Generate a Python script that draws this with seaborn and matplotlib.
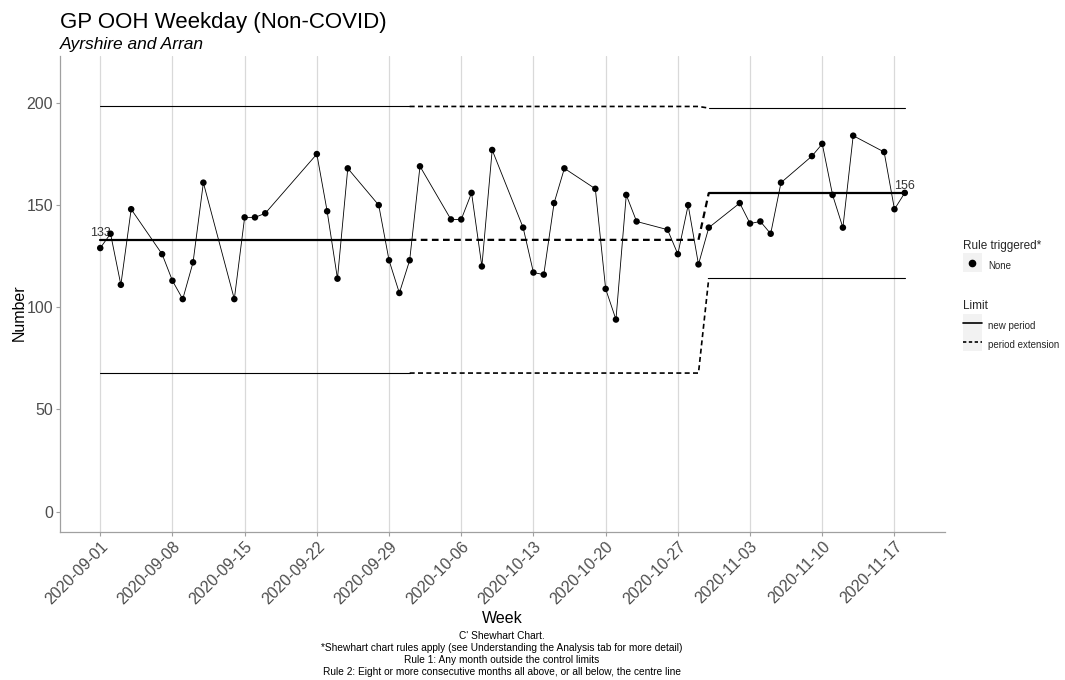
import matplotlib
matplotlib.use("Agg")
import matplotlib.pyplot as plt
from matplotlib.lines import Line2D
from matplotlib.patches import Rectangle
from matplotlib.legend_handler import HandlerTuple, HandlerPatch
import pandas as pd
import seaborn as sns

# daily counts (weekdays only)
dates = ["2020-09-01", "2020-09-02", "2020-09-03", "2020-09-04",
         "2020-09-07", "2020-09-08", "2020-09-09", "2020-09-10", "2020-09-11",
         "2020-09-14", "2020-09-15", "2020-09-16", "2020-09-17",
         "2020-09-22", "2020-09-23", "2020-09-24", "2020-09-25",
         "2020-09-28", "2020-09-29", "2020-09-30", "2020-10-01", "2020-10-02",
         "2020-10-05", "2020-10-06", "2020-10-07", "2020-10-08", "2020-10-09",
         "2020-10-12", "2020-10-13", "2020-10-14", "2020-10-15", "2020-10-16",
         "2020-10-19", "2020-10-20", "2020-10-21", "2020-10-22", "2020-10-23",
         "2020-10-26", "2020-10-27", "2020-10-28", "2020-10-29", "2020-10-30",
         "2020-11-02", "2020-11-03", "2020-11-04", "2020-11-05", "2020-11-06",
         "2020-11-09", "2020-11-10", "2020-11-11", "2020-11-12", "2020-11-13",
         "2020-11-16", "2020-11-17", "2020-11-18"]
counts = [129, 136, 111, 148,
          126, 113, 104, 122, 161,
          104, 144, 144, 146,
          175, 147, 114, 168,
          150, 123, 107, 123, 169,
          143, 143, 156, 120, 177,
          139, 117, 116, 151, 168,
          158, 109, 94, 155, 142,
          138, 126, 150, 121, 139,
          151, 141, 142, 136, 161,
          174, 180, 155, 139, 184,
          176, 148, 156]

# control limits: first period, its extension, second period
p1_dates = ["2020-09-01", "2020-10-01"]
p1_centre = [133, 133]
p1_upper = [198.3, 198.3]
p1_lower = [67.8, 67.8]

ext_dates = ["2020-10-01", "2020-10-29", "2020-10-30"]
ext_centre = [133, 133, 156]
ext_upper = [198.3, 198.3, 197.5]
ext_lower = [67.8, 67.8, 114.3]

p2_dates = ["2020-10-30", "2020-11-18"]
p2_centre = [156, 156]
p2_upper = [197.5, 197.5]
p2_lower = [114.3, 114.3]

week_ticks = pd.date_range("2020-09-01", "2020-11-17", freq="7D")
y_ticks = [0, 50, 100, 150, 200]

df = pd.DataFrame({"date": pd.to_datetime(dates), "count": counts})

sns.set_theme(style="white")
plt.rcParams["font.family"] = ["Liberation Sans", "DejaVu Sans"]

fig = plt.figure(figsize=(10.65, 6.8), dpi=100)
ax = fig.add_axes([60 / 1065, 1 - 532 / 680, 885 / 1065, 476 / 680])

# limit lines
dash = (0, (3, 2))
for d, c, u, l, ls, lw in [(p1_dates, p1_centre, p1_upper, p1_lower, "-", 0.8),
                           (ext_dates, ext_centre, ext_upper, ext_lower, dash, 1.2),
                           (p2_dates, p2_centre, p2_upper, p2_lower, "-", 0.8)]:
    x = pd.to_datetime(d)
    sns.lineplot(x=x, y=c, ax=ax, color="black", lw=1.6, linestyle=ls)
    sns.lineplot(x=x, y=u, ax=ax, color="black", lw=lw, linestyle=ls)
    sns.lineplot(x=x, y=l, ax=ax, color="black", lw=lw, linestyle=ls)

# data
sns.lineplot(data=df, x="date", y="count", ax=ax, color="black", lw=0.6)
sns.scatterplot(data=df, x="date", y="count", ax=ax, color="black", s=22,
                edgecolor="none", zorder=5)

# centre line labels
ax.text(pd.Timestamp(p1_dates[0]), p1_centre[0] + 0.5, str(p1_centre[0]),
        ha="center", va="bottom", fontsize=9, color="#333333")
ax.text(pd.Timestamp(p2_dates[-1]), p2_centre[-1] + 0.5, str(p2_centre[-1]),
        ha="center", va="bottom", fontsize=9, color="#333333")

ax.set_xlim(pd.Timestamp("2020-09-01") - pd.Timedelta(days=3.9),
            pd.Timestamp("2020-11-18") + pd.Timedelta(days=3.9))
ax.set_ylim(-10, 223)
ax.set_xticks(week_ticks)
ax.set_xticklabels([t.strftime("%Y-%m-%d") for t in week_ticks], rotation=45,
                   ha="right", va="top", rotation_mode="anchor",
                   fontsize=11.5, color="#4d4d4d")
ax.set_yticks(y_ticks)
ax.set_yticklabels([str(v) for v in y_ticks], fontsize=11.5, color="#4d4d4d")
ax.tick_params(axis="both", length=3, width=0.8, color="#a0a0a0",
               bottom=True, left=True, pad=2)
ax.grid(axis="x", color="#d9d9d9", lw=0.9)
ax.grid(axis="y", visible=False)
for side in ["top", "right"]:
    ax.spines[side].set_visible(False)
for side in ["left", "bottom"]:
    ax.spines[side].set_color("#a0a0a0")
    ax.spines[side].set_linewidth(0.9)

ax.set_xlabel("Week", fontsize=11.5, color="black", labelpad=3)
ax.set_ylabel("Number", fontsize=11.5, color="black", labelpad=0)
ax.yaxis.set_label_coords(-0.038, 0.46)

fig.text(60 / 1065, 1 - 28 / 680, "GP OOH Weekday (Non-COVID)", fontsize=16,
         ha="left", va="baseline", color="black")
fig.text(60 / 1065, 1 - 49 / 680, "Ayrshire and Arran", fontsize=12.5,
         style="italic", ha="left", va="baseline", color="black")

caption = ("C' Shewhart Chart.\n"
           "*Shewhart chart rules apply (see Understanding the Analysis tab for more detail)\n"
           "Rule 1: Any month outside the control limits\n"
           "Rule 2: Eight or more consecutive months all above, or all below, the centre line")
fig.text(502 / 1065, 1 - 631 / 680, caption, fontsize=7.3, ha="center",
         va="top", linespacing=1.24, color="black")


# legend key background: square centred on the line/marker
def key_square(legend, orig_handle, xdescent, ydescent, width, height, fontsize):
    cy = (height - ydescent) / 2
    return Rectangle((-xdescent, cy - width / 2), width, width)


key_bg = Rectangle((0, 0), 1, 1, facecolor="#f2f2f2", edgecolor="none")
dot = Line2D([], [], marker="o", ls="none", color="black", markersize=4.5)
solid = Line2D([], [], ls="-", color="black", lw=1.2)
dashed = Line2D([], [], ls=(0, (2, 1.5)), color="black", lw=1.2)
hmap = {tuple: HandlerTuple(ndivide=1), Rectangle: HandlerPatch(patch_func=key_square)}

leg1 = fig.legend([(key_bg, dot)], ["None"], title="Rule triggered*",
                  loc="upper left", bbox_to_anchor=(955 / 1065, 1 - 232 / 680),
                  frameon=False, fontsize=7, title_fontsize=8.5,
                  handlelength=1.95, handleheight=2.5, handletextpad=0.65,
                  borderpad=0.3, handler_map=hmap)
leg1._legend_box.align = "left"
leg2 = fig.legend([(key_bg, solid), (key_bg, dashed)],
                  ["new period", "period extension"], title="Limit",
                  loc="upper left", bbox_to_anchor=(955 / 1065, 1 - 292 / 680),
                  frameon=False, fontsize=7, title_fontsize=8.5,
                  handlelength=1.95, handleheight=2.5, handletextpad=0.65,
                  labelspacing=0.0, borderpad=0.3, handler_map=hmap)
leg2._legend_box.align = "left"
leg2._legend_box.sep = 4

fig.savefig("out.png", dpi=100, facecolor="white")
